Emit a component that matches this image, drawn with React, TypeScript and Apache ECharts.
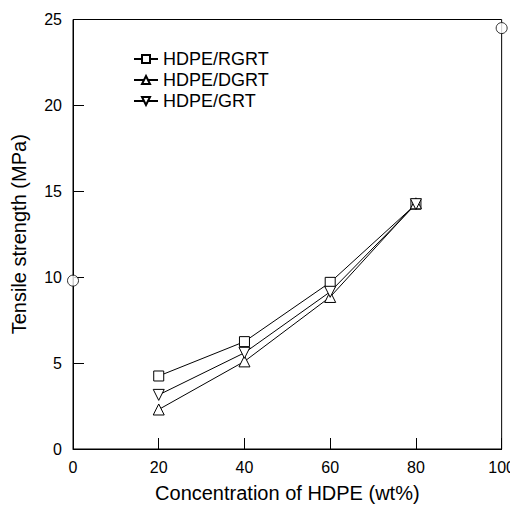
import React, { useEffect, useRef } from "react";
import * as echarts from "echarts";

// HDPE content (wt%) of the blends
const hdpeContent = [20, 40, 60, 80];
// Tensile strength (MPa) of each blend type
const rgrtStrength = [4.25, 6.25, 9.7, 14.25];
const dgrtStrength = [2.3, 5.1, 8.85, 14.3];
const grtStrength = [3.15, 5.6, 9.15, 14.25];
// Pure components: GRT alone (0 wt% HDPE) and HDPE alone (100 wt%)
const pureContent = [0, 100];
const pureStrength = [9.8, 24.5];

const xTicks = [0, 20, 40, 60, 80, 100];
const yTicks = [0, 5, 10, 15, 20, 25];

const FONT = "'Liberation Sans', Arial, sans-serif";

const pairs = (xs: number[], ys: number[]) => xs.map((x, i) => [x, ys[i]]);

export default function App() {
  const ref = useRef<HTMLDivElement>(null);

  useEffect(() => {
    if (!ref.current) return;
    const chart = echarts.init(ref.current, undefined, { renderer: "svg" });

    const markerStyle = { color: "#fff", borderColor: "#000", borderWidth: 1 };
    const lineSeries = (name: string, ys: number[], symbol: string, rotate = 0) => ({
      name,
      type: "line",
      data: pairs(hdpeContent, ys),
      symbol,
      symbolSize: symbol === "rect" ? 10 : 11,
      symbolRotate: rotate,
      showAllSymbol: true,
      lineStyle: { color: "#000", width: 1 },
      itemStyle: markerStyle,
      clip: false,
      z: 3,
    });

    chart.setOption({
      animation: false,
      backgroundColor: "#fff",
      grid: {
        left: 73,
        right: 16,
        top: 19.5,
        bottom: 63,
        show: true,
        borderColor: "#000",
        borderWidth: 1,
        containLabel: false,
      },
      legend: {
        orient: "vertical",
        left: 128,
        top: 45,
        itemWidth: 24,
        itemHeight: 10,
        itemGap: 3,
        symbolRotate: "inherit",
        data: ["HDPE/RGRT", "HDPE/DGRT", "HDPE/GRT"],
        textStyle: { fontFamily: FONT, fontSize: 18, color: "#000", padding: [0, 0, 0, 0] },
      },
      xAxis: {
        type: "value",
        min: xTicks[0],
        max: xTicks[xTicks.length - 1],
        interval: 20,
        name: "Concentration of HDPE (wt%)",
        nameLocation: "middle",
        nameGap: 34,
        nameTextStyle: { fontFamily: FONT, fontSize: 20, color: "#000" },
        axisLine: { show: true, lineStyle: { color: "#000", width: 1 } },
        axisTick: { show: true, inside: true, length: 11, lineStyle: { color: "#000" } },
        axisLabel: { fontFamily: FONT, fontSize: 16, color: "#000", margin: 10 },
        splitLine: { show: false },
      },
      yAxis: {
        type: "value",
        min: yTicks[0],
        max: yTicks[yTicks.length - 1],
        interval: 5,
        name: "Tensile strength (MPa)",
        nameLocation: "middle",
        nameGap: 44,
        nameTextStyle: { fontFamily: FONT, fontSize: 20, color: "#000" },
        axisLine: { show: true, lineStyle: { color: "#000", width: 1 } },
        axisTick: { show: true, inside: true, length: 11, lineStyle: { color: "#000" } },
        axisLabel: { fontFamily: FONT, fontSize: 16, color: "#000", margin: 11 },
        splitLine: { show: false },
      },
      series: [
        lineSeries("HDPE/RGRT", rgrtStrength, "rect"),
        lineSeries("HDPE/DGRT", dgrtStrength, "triangle"),
        lineSeries("HDPE/GRT", grtStrength, "triangle", 180),
        {
          name: "pure",
          type: "scatter",
          data: pairs(pureContent, pureStrength),
          symbol: "circle",
          symbolSize: 11,
          itemStyle: markerStyle,
          clip: false,
          z: 4,
        },
      ],
    });

    return () => chart.dispose();
  }, []);

  return <div ref={ref} style={{ width: 518, height: 512, margin: -8 }} />;
}
